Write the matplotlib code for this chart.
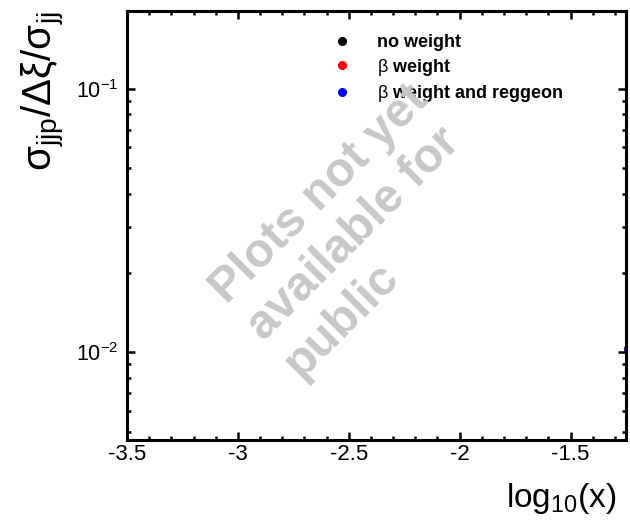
import matplotlib
matplotlib.use("Agg")
import matplotlib.pyplot as plt
from matplotlib.lines import Line2D
from matplotlib.ticker import FixedLocator, MultipleLocator, NullFormatter

plt.rcParams['font.family'] = ['Liberation Sans', 'DejaVu Sans']
plt.rcParams['mathtext.fontset'] = 'custom'
plt.rcParams['mathtext.rm'] = 'Liberation Sans'
plt.rcParams['mathtext.it'] = 'Liberation Sans:italic'
plt.rcParams['mathtext.bf'] = 'Liberation Sans:bold'
plt.rcParams['mathtext.default'] = 'regular'

# data: only the ends of the edge bins reach into the visible window
bin_x = [-3.6, -1.15]
bin_halfwidth = [0.11, 0.11]
no_weight = [0.0905, 0.0104]
beta_weight = [0.0872, 0.0103]
beta_reggeon = [0.0935, 0.0102]

series_names = ['no weight', r'$\mathrm{\beta}$ weight', r'$\mathrm{\beta}$ weight and reggeon']
series_colors = ['black', 'red', 'blue']

x_ticks = [-3.5, -3, -2.5, -2, -1.5]
x_tick_labels = ['-3.5', '-3', '-2.5', '-2', '-1.5']
y_ticks = [0.01, 0.1]
y_tick_labels = ['$10^{-2}$', '$10^{-1}$']

fig = plt.figure(figsize=(6.3, 5.2), dpi=100)
ax = fig.add_axes([0.2016, 0.1538, 0.792, 0.825])

handles = []
for vals, col, name in zip([no_weight, beta_weight, beta_reggeon], series_colors, series_names):
    ax.errorbar(bin_x, vals, xerr=bin_halfwidth, fmt='o', color=col,
                markersize=5, elinewidth=1.6, capsize=0)
    handles.append(Line2D([], [], marker='o', linestyle='none', color=col,
                          markersize=5.5, label=name))

ax.set_yscale('log')
ax.set_xlim(-3.5, -1.25)
ax.set_ylim(0.00465, 0.197)

ax.xaxis.set_major_locator(FixedLocator(x_ticks))
ax.set_xticklabels(x_tick_labels)
ax.xaxis.set_minor_locator(MultipleLocator(0.1))
ax.yaxis.set_major_locator(FixedLocator(y_ticks))
ax.set_yticklabels(y_tick_labels)
ax.yaxis.set_minor_formatter(NullFormatter())

for sp in ax.spines.values():
    sp.set_linewidth(2.2)
ax.tick_params(which='both', direction='in', top=True, right=True, width=1.8)
ax.tick_params(which='major', length=6)
ax.tick_params(which='minor', length=3.2)
ax.tick_params(axis='x', labelsize=16, pad=3)
ax.tick_params(axis='y', labelsize=15.5, pad=6)

ax.set_ylabel(r'$\sigma_{\mathrm{jjp}}/\Delta\xi/\sigma_{\mathrm{jj}}$', fontsize=29, loc='top')
ax.yaxis.set_label_coords(-0.12, 1.0)
ax.set_xlabel(r'log$_{10}$(x)', fontsize=24, loc='right')
ax.xaxis.set_label_coords(0.982, -0.0956)

ax.legend(handles=handles, loc='upper left', bbox_to_anchor=(0.413, 0.946),
          frameon=False, borderpad=0, borderaxespad=0, handlelength=1.0,
          handletextpad=1.44, labelspacing=0.3,
          prop={'size': 13, 'weight': 'bold'})

# watermark over the plot
fig.text(296 / 630, 1 - 374 / 520, 'Plots not yet\navailable for\npublic',
         rotation=45, rotation_mode='anchor', ha='left', va='baseline',
         multialignment='left', fontsize=34.5, fontweight='bold',
         color='#c8c8c8', zorder=10)

fig.savefig('out.png', dpi=100)
